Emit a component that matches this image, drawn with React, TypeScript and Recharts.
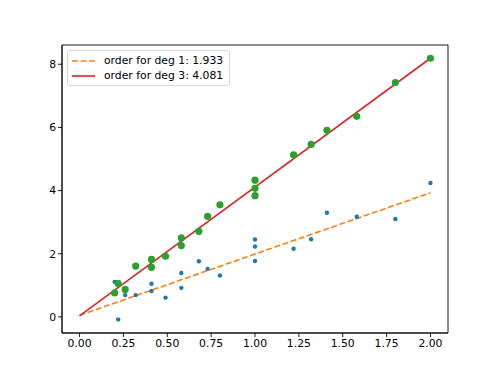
import { ComposedChart, Scatter, Line, XAxis, YAxis, ReferenceArea } from 'recharts';

// x positions shared by both samples
const xs = [0.2, 0.22, 0.26, 0.32, 0.41, 0.41, 0.49, 0.58, 0.58, 0.68, 0.73, 0.8, 1.0, 1.0, 1.0, 1.22, 1.32, 1.41, 1.58, 1.8, 2.0];
const deg1Values = [1.11, -0.08, 0.69, 0.69, 1.05, 0.82, 0.61, 1.39, 0.92, 1.76, 1.52, 1.31, 2.45, 2.23, 1.77, 2.16, 2.46, 3.3, 3.17, 3.1, 4.24];
const deg3Values = [0.76, 1.06, 0.87, 1.61, 1.82, 1.57, 1.92, 2.5, 2.26, 2.71, 3.18, 3.55, 4.33, 4.07, 3.84, 5.13, 5.46, 5.91, 6.35, 7.42, 8.19];

// fitted lines, end points
const fitX = [0, 2];
const fit1Values = [0.05, 3.93];
const fit3Values = [0.03, 8.19];

const xTicks = [0, 0.25, 0.5, 0.75, 1.0, 1.25, 1.5, 1.75, 2.0];
const yTicks = [0, 2, 4, 6, 8];

const legendItems = [
  { label: 'order for deg 1: 1.933', color: '#ff7f0e', dash: '6 2.6' },
  { label: 'order for deg 3: 4.081', color: '#d62728', dash: undefined },
];

const deg1Data = xs.map((x, i) => ({ x, y: deg1Values[i] }));
const deg3Data = xs.map((x, i) => ({ x, y: deg3Values[i] }));
const fit1Data = fitX.map((x, i) => ({ x, y: fit1Values[i] }));
const fit3Data = fitX.map((x, i) => ({ x, y: fit3Values[i] }));

const FONT = 'DejaVu Sans, sans-serif';
const tickStyle = { fontFamily: FONT, fontSize: 10.8, fill: '#000' };

const dot = (r: number, color: string) => (props: any) => (
  <circle cx={props.cx} cy={props.cy} r={r} fill={color} />
);

const LegendBox = () => (
  <div
    style={{
      position: 'absolute',
      left: 67,
      top: 50,
      border: '1px solid #d6d6d6',
      borderRadius: 3,
      background: 'rgba(255,255,255,0.8)',
      padding: '2px 6px 2px 2px',
      fontFamily: FONT,
      fontSize: 10.8,
      color: '#000',
      lineHeight: '15px',
      whiteSpace: 'nowrap',
    }}
  >
    {legendItems.map((it) => (
      <div key={it.label} style={{ display: 'flex', alignItems: 'center' }}>
        <svg width={30} height={10} style={{ marginRight: 4 }}>
          <line x1={2} y1={5} x2={25} y2={5} stroke={it.color} strokeWidth={1.6} strokeDasharray={it.dash} />
        </svg>
        <span>{it.label}</span>
      </div>
    ))}
  </div>
);

export default function App() {
  return (
    <div style={{ position: 'absolute', left: 0, top: 0, width: 498, height: 374, background: '#fff' }}>
      <ComposedChart width={498} height={374} margin={{ top: 45, right: 50, bottom: 11, left: 0 }}>
        <XAxis
          dataKey="x"
          type="number"
          domain={[-0.1, 2.1]}
          allowDataOverflow
          ticks={xTicks}
          tickFormatter={(v: number) => v.toFixed(2)}
          tick={tickStyle}
          tickSize={4}
          interval={0}
          height={30}
          stroke="#000"
          strokeWidth={0.9}
        />
        <YAxis
          dataKey="y"
          type="number"
          domain={[-0.51, 8.61]}
          allowDataOverflow
          ticks={yTicks}
          tick={tickStyle}
          tickSize={4}
          interval={0}
          width={62}
          stroke="#000"
          strokeWidth={0.9}
        />
        <ReferenceArea x1={-0.1} x2={2.1} y1={-0.51} y2={8.61} fill="none" stroke="#000" strokeWidth={0.9} ifOverflow="visible" />
        <Scatter data={deg1Data} dataKey="y" fill="#1f77b4" shape={dot(2.2, '#1f77b4')} isAnimationActive={false} />
        <Line data={fit1Data} dataKey="y" stroke="#ff7f0e" strokeWidth={1.6} strokeDasharray="6 2.6" dot={false} activeDot={false} isAnimationActive={false} type="linear" />
        <Scatter data={deg3Data} dataKey="y" fill="#2ca02c" shape={dot(3.6, '#2ca02c')} isAnimationActive={false} />
        <Line data={fit3Data} dataKey="y" stroke="#d62728" strokeWidth={1.6} dot={false} activeDot={false} isAnimationActive={false} type="linear" />
      </ComposedChart>
      <LegendBox />
    </div>
  );
}
